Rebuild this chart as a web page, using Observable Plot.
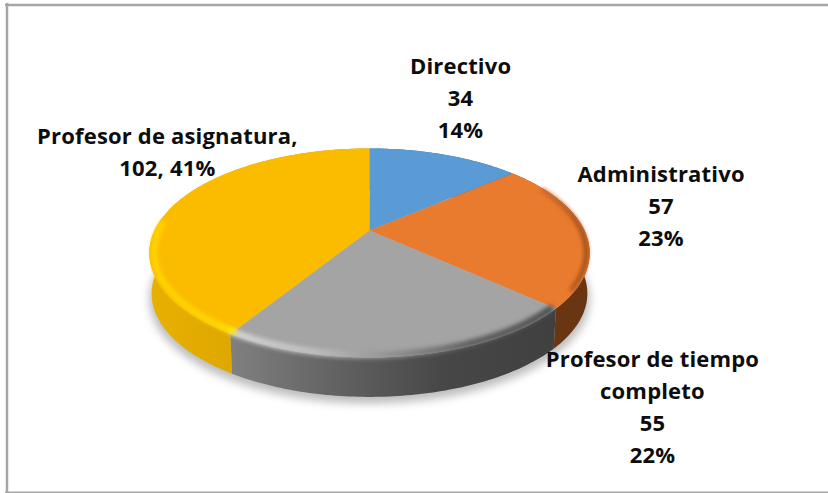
<!DOCTYPE html>
<html><head><meta charset="utf-8">
<script src="https://cdn.jsdelivr.net/npm/d3@7"></script>
<script src="https://cdn.jsdelivr.net/npm/@observablehq/plot@0.6"></script>
<style>html,body{margin:0;padding:0;background:#fff}svg{display:block}</style>
</head><body><div id="chart"></div>
<script>
const categories = ["Directivo","Administrativo","Profesor de tiempo completo","Profesor de asignatura"];
const values = [34,57,55,102];
const percents = [14,23,22,41];
const labelTexts = ["Directivo\n34\n14%","Administrativo\n57\n23%","Profesor de tiempo\ncompleto\n55\n22%","Profesor de asignatura,\n102, 41%"];
const topFills = ["#5b9bd5","#e97b2f","#a4a4a4","#fbbc00"];
const sideFills = ["#3a6d9c","url(#sideOrange)","url(#sideGray)","url(#sideYellow)"];
const labelOffsets = [[16,-59],[76,-28],[245,49],[-7,-55]];

const cx=369, cy=230, kx=215, ky=99.7, p=0.215, depth=41;
function proj(theta,r=1,dy=0){
  const u=r*Math.sin(theta), v=-r*Math.cos(theta), d=1-p*v;
  return {x:cx+kx*u/d, y:cy+ky*v/d+dy};
}
function arc(a0,a1,r=1,dy=0){
  const n=Math.max(2,Math.ceil((a1-a0)*60)), pts=[];
  for(let i=0;i<=n;i++) pts.push(proj(a0+(a1-a0)*i/n,r,dy));
  return pts;
}
const total=d3.sum(values);
let acc=0;
const slices=values.map((v,i)=>{const a0=acc/total*2*Math.PI; acc+=v; const a1=acc/total*2*Math.PI; return {i,a0,a1};});

function blur(px){return (index,scales,vals,dim,ctx,next)=>{const g=next(index,scales,vals,dim,ctx); g.style.filter=`blur(${px}px)`; return g;};}
function spaced(em){return (index,scales,vals,dim,ctx,next)=>{const g=next(index,scales,vals,dim,ctx); g.style.letterSpacing=em; return g;};}

function stops(id,list){
  return `<linearGradient id="${id}" x1="0" y1="0" x2="1" y2="0">`+list.map(([o,c,a])=>`<stop offset="${o}" stop-color="${c}" stop-opacity="${a??1}"/>`).join("")+`</linearGradient>`;
}
const defs=()=>{
  const s=document.createElementNS("http://www.w3.org/2000/svg","defs");
  s.innerHTML=
    stops("sideGray",[[0,"#808080"],[0.35,"#606060"],[0.65,"#474747"],[1,"#404040"]])+
    stops("sideYellow",[[0,"#e8b000"],[0.5,"#dba500"],[1,"#c49200"]])+
    stops("sideOrange",[[0,"#6a3511"],[1,"#6a3511"]])+
    stops("rimGray",[[0,"#d4d4d4"],[0.25,"#c0c0c0"],[0.5,"#909090"],[0.75,"#5e5e5e"],[1,"#505050"]])+
    stops("rimYellow",[[0,"#ffd400"],[0.7,"#ffd800"],[1,"#ffe600"]])+
    stops("rimOrange",[[0,"#c8672a"],[0.6,"#a95520"],[1,"#8f4617"]]);
  return s;
};

const marks=[defs];
// panel border (open on the right, as in the reference)
marks.push(Plot.ruleY([4.5],{x1:5,x2:828,stroke:"#a6a6a6",strokeWidth:2.5}));
marks.push(Plot.ruleX([6.5],{y1:3,y2:493,stroke:"#a6a6a6",strokeWidth:2.5}));
marks.push(Plot.ruleY([492],{x1:5,x2:828,stroke:"#a6a6a6",strokeWidth:2}));
// soft shadow
marks.push(Plot.line(arc(0,2*Math.PI,1.0,depth+5),{x:"x",y:"y",fill:"#bdbdbd",stroke:"none",render:blur(4)}));
// sides
[0,3,1,2].forEach(i=>{
  const s=slices[i];
  const pts=[...arc(s.a0,s.a1),...arc(s.a0,s.a1,0.99,depth).reverse()];
  marks.push(Plot.line(pts,{x:"x",y:"y",fill:sideFills[i],stroke:"none"}));
});
// tops
slices.forEach(s=>{
  const pts=[proj(0,0),...arc(s.a0,s.a1)];
  marks.push(Plot.line(pts,{x:"x",y:"y",fill:topFills[s.i],stroke:"none"}));
});
// bevel along the rim
const d2r=Math.PI/180;
[[slices[1].a0+14*d2r,slices[1].a1-10*d2r,"url(#rimOrange)",0.985,4],
 [slices[2].a0+1*d2r,slices[2].a1,"url(#rimGray)",0.985,7],
 [slices[3].a0,slices[3].a0+62*d2r,"url(#rimYellow)",0.98,6]].forEach(([a0,a1,c,r,w])=>{
  marks.push(Plot.line(arc(a0,a1,r),{x:"x",y:"y",stroke:c,strokeWidth:w,fill:"none",render:blur(2.2)}));
});
// labels
const labels=slices.map(s=>{
  const m=proj((s.a0+s.a1)/2);
  return {x:m.x+labelOffsets[s.i][0], y:m.y+labelOffsets[s.i][1], t:labelTexts[s.i]};
});
marks.push(Plot.text(labels,{x:"x",y:"y",text:"t",fontFamily:"Open Sans",fontWeight:700,fontSize:22,lineHeight:1.45,fill:"#0d0d0d",textAnchor:"middle",lineAnchor:"middle",render:spaced("0.008em")}));

const chart=Plot.plot({width:828,height:493,margin:0,
  x:{domain:[0,828],range:[0,828],axis:null},
  y:{domain:[0,493],range:[0,493],axis:null},
  marks});
document.getElementById("chart").append(chart);
</script></body></html>
